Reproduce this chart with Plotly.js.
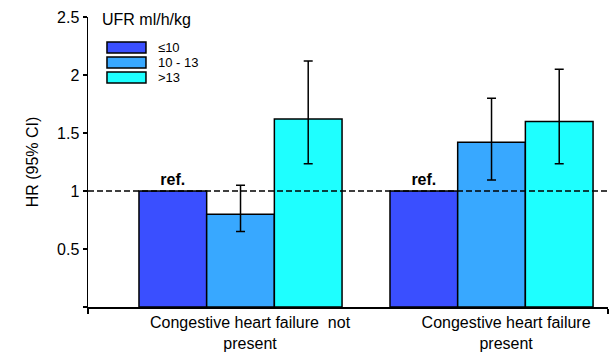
<!DOCTYPE html>
<html>
<head>
<meta charset="utf-8">
<script src="https://cdn.plot.ly/plotly-3.0.1.min.js"></script>
<style>html,body{margin:0;padding:0;background:#fff;}#chart{width:612px;height:352px;}</style>
</head>
<body>
<div id="chart"></div>
<script>
// ---- data ----
const categories = ['Congestive heart failure  not<br>present', 'Congestive heart failure<br>present'];
const seriesNames = ['\u226410', '10 - 13', '>13'];
const hrLow = [1, 1];
const hrMid = [0.80, 1.42];
const hrHigh = [1.62, 1.60];
const ciMidLower = [0.65, 1.095];
const ciMidUpper = [1.05, 1.80];
const ciHighLower = [1.235, 1.235];
const ciHighUpper = [2.12, 2.05];
const refLabels = ['ref.', 'ref.'];
const yTickVals = [0, 0.5, 1, 1.5, 2, 2.5];
const yTickText = ['', '0.5', '1', '1.5', '2', '2.5'];
const legendTitle = 'UFR ml/h/kg';

// ---- style ----
const colors = ['#3a4fff', '#38a8ff', '#1effff'];
const FONT = '"Liberation Sans", Arial, sans-serif';
const xPos = categories.map((_, i) => i);
const labelOffset = [0.038, 0.058];

function errs(vals, lo, hi) {
  return {
    type: 'data', symmetric: false,
    array: vals.map((v, i) => hi[i] - v),
    arrayminus: vals.map((v, i) => v - lo[i]),
    color: '#000', thickness: 1.5, width: 4.5, visible: true
  };
}

const barLine = {color: '#000', width: 1.5};
const traces = [
  {type: 'bar', name: seriesNames[0], x: xPos, y: hrLow, marker: {color: colors[0], line: barLine},
   text: refLabels, textposition: 'outside', cliponaxis: false,
   textfont: {family: FONT, size: 16, color: '#000', weight: 'bold'}, hoverinfo: 'none'},
  {type: 'bar', name: seriesNames[1], x: xPos, y: hrMid, marker: {color: colors[1], line: barLine},
   error_y: errs(hrMid, ciMidLower, ciMidUpper), hoverinfo: 'none'},
  {type: 'bar', name: seriesNames[2], x: xPos, y: hrHigh, marker: {color: colors[2], line: barLine},
   error_y: errs(hrHigh, ciHighLower, ciHighUpper), hoverinfo: 'none'}
];

// manual legend (large swatches like the reference)
const shapes = [{
  type: 'line', xref: 'paper', x0: 0, x1: 1, yref: 'y', y0: 1, y1: 1,
  line: {color: '#000', width: 1.5, dash: '6px,3px'}, layer: 'above'
}];
const annotations = [{
  xref: 'paper', yref: 'paper', x: 0.023, y: 0.99, xanchor: 'left', yanchor: 'middle',
  text: legendTitle, showarrow: false, font: {family: FONT, size: 16, color: '#000'}
}];
seriesNames.forEach((n, i) => {
  const yTop = 0.914 - i * 0.0517;
  shapes.push({type: 'rect', xref: 'paper', yref: 'paper', x0: 0.0365, x1: 0.1115, y0: yTop - 0.038, y1: yTop,
    fillcolor: colors[i], line: {color: '#000', width: 1.5}});
  annotations.push({xref: 'paper', yref: 'paper', x: 0.1327, y: yTop - 0.019, xanchor: 'left', yanchor: 'middle',
    text: n, showarrow: false, borderpad: 0, font: {family: FONT, size: 13, color: '#000'}});
});

const xRange = [-0.6076, 1.464];
const layout = {
  width: 612, height: 352,
  margin: {l: 88, r: 4, t: 17, b: 45, pad: 0},
  paper_bgcolor: '#fff', plot_bgcolor: '#fff',
  font: {family: FONT, size: 16, color: '#000'},
  showlegend: false,
  barmode: 'group', bargap: 0.191, bargroupgap: 0,
  xaxis: {
    range: xRange, showgrid: false, zeroline: false,
    showline: true, linecolor: '#000', linewidth: 1.5,
    tickvals: xPos.map((v, i) => v + labelOffset[i]), ticktext: categories,
    ticks: '', tickfont: {family: FONT, size: 16, color: '#000'},
    minor: {tickvals: xRange, ticks: 'outside', ticklen: 5, tickcolor: '#000', tickwidth: 1.5, showgrid: false}
  },
  yaxis: {
    range: [0, 2.5], showgrid: false, zeroline: false,
    showline: true, linecolor: '#000', linewidth: 1.5,
    tickvals: yTickVals, ticktext: yTickText,
    ticks: 'outside', ticklen: 4, tickwidth: 1.5, tickcolor: '#000',
    tickfont: {family: FONT, size: 16, color: '#000'},
    title: {text: 'HR (95% CI)', font: {family: FONT, size: 16, color: '#000'}, standoff: 14}
  },
  shapes: shapes,
  annotations: annotations
};

Plotly.newPlot('chart', traces, layout, {staticPlot: true, displayModeBar: false});
</script>
</body>
</html>
